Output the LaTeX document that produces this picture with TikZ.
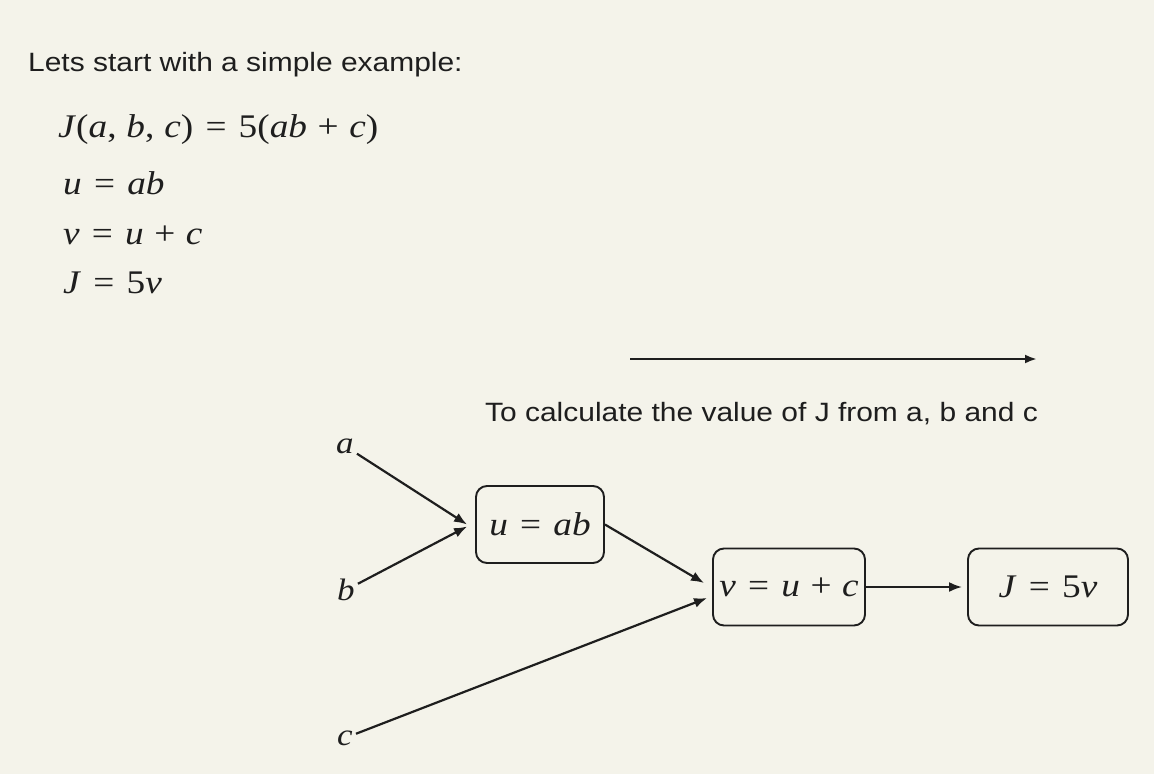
\documentclass[tikz,border=0pt]{standalone}
\usepackage{fontspec}
\setmainfont[FakeStretch=1.13]{Liberation Serif}
\newfontfamily\sansf[FakeStretch=1.13]{Liberation Sans}
\usetikzlibrary{arrows.meta,calc}
\definecolor{bg}{HTML}{F4F3EA}
\definecolor{ink}{HTML}{1E1E1E}
\newcommand\Eq{\hspace{0.37em}=\hspace{0.37em}}
\newcommand\Pl{\hspace{0.32em}+\hspace{0.32em}}
\newcommand\I[1]{\textit{#1}}
\begin{document}
\begin{tikzpicture}[x=1pt,y=-1pt,
  every node/.style={text=ink},
  sanstext/.style={font=\sansf\fontsize{26.5}{30}\selectfont, anchor=base west, inner sep=0},
  mathtext/.style={font=\fontsize{33}{38}\selectfont, anchor=base west, inner sep=0},
  var/.style={font=\fontsize{31}{34}\selectfont\itshape, inner sep=3pt},
  opbox/.style={draw=ink, line width=1.9pt, rounded corners=11pt, font=\fontsize{33}{38}\selectfont, minimum height=77pt, inner sep=0},
  arr/.style={draw=ink, line width=2.2pt, -{Latex[length=13pt,width=10pt]}}]
\fill[bg] (0,0) rectangle (1154,774);
\useasboundingbox (0,0) rectangle (1154,774);

\node[sanstext] (title) at (28,71) {Lets start with a simple example:};
\node[mathtext] (eq1) at (58,137) {\I{J}(\I{a},\hspace{0.3em}\I{b},\hspace{0.3em}\I{c})\Eq 5(\I{ab}\Pl\I{c})};
\node[mathtext] (eq2) at (63,194) {\I{u}\Eq\I{ab}};
\node[mathtext] (eq3) at (63,244) {\I{v}\Eq\I{u}\Pl\I{c}};
\node[mathtext] (eq4) at (63,293) {\I{J}\Eq 5\I{v}};

\coordinate (fs) at (630,359);
\coordinate (fe) at (1037,359);
\draw[arr, line width=2.5pt, -{Latex[length=12pt,width=9pt]}] (fs) -- (fe);
\node[sanstext] (cap) at (485,421) {To calculate the value of J from a, b and c};

\node[var] (a) at (345,446) {a};
\node[var] (b) at (346,590) {b};
\node[var] (c) at (345,738) {c};

\node[opbox, minimum width=128pt] (u) at (540,524.5) {\I{u}\Eq\I{ab}};
\node[opbox, minimum width=152pt] (v) at (789,587) {\I{v}\Eq\I{u}\Pl\I{c}};
\node[opbox, minimum width=160pt] (J) at (1048,587) {\I{J}\Eq 5\I{v}};

\draw[arr] (a) -- ($(u.west)+(-8,0)$);
\draw[arr] (b) -- ($(u.west)+(-8,2)$);
\draw[arr] (u.east) -- ($(v.west)+(-8,-4)$);
\draw[arr] (c) -- ($(v.west)+(-5,11)$);
\draw[arr] (v.east) -- ($(J.west)+(-5,0)$);
\end{tikzpicture}
\end{document}
